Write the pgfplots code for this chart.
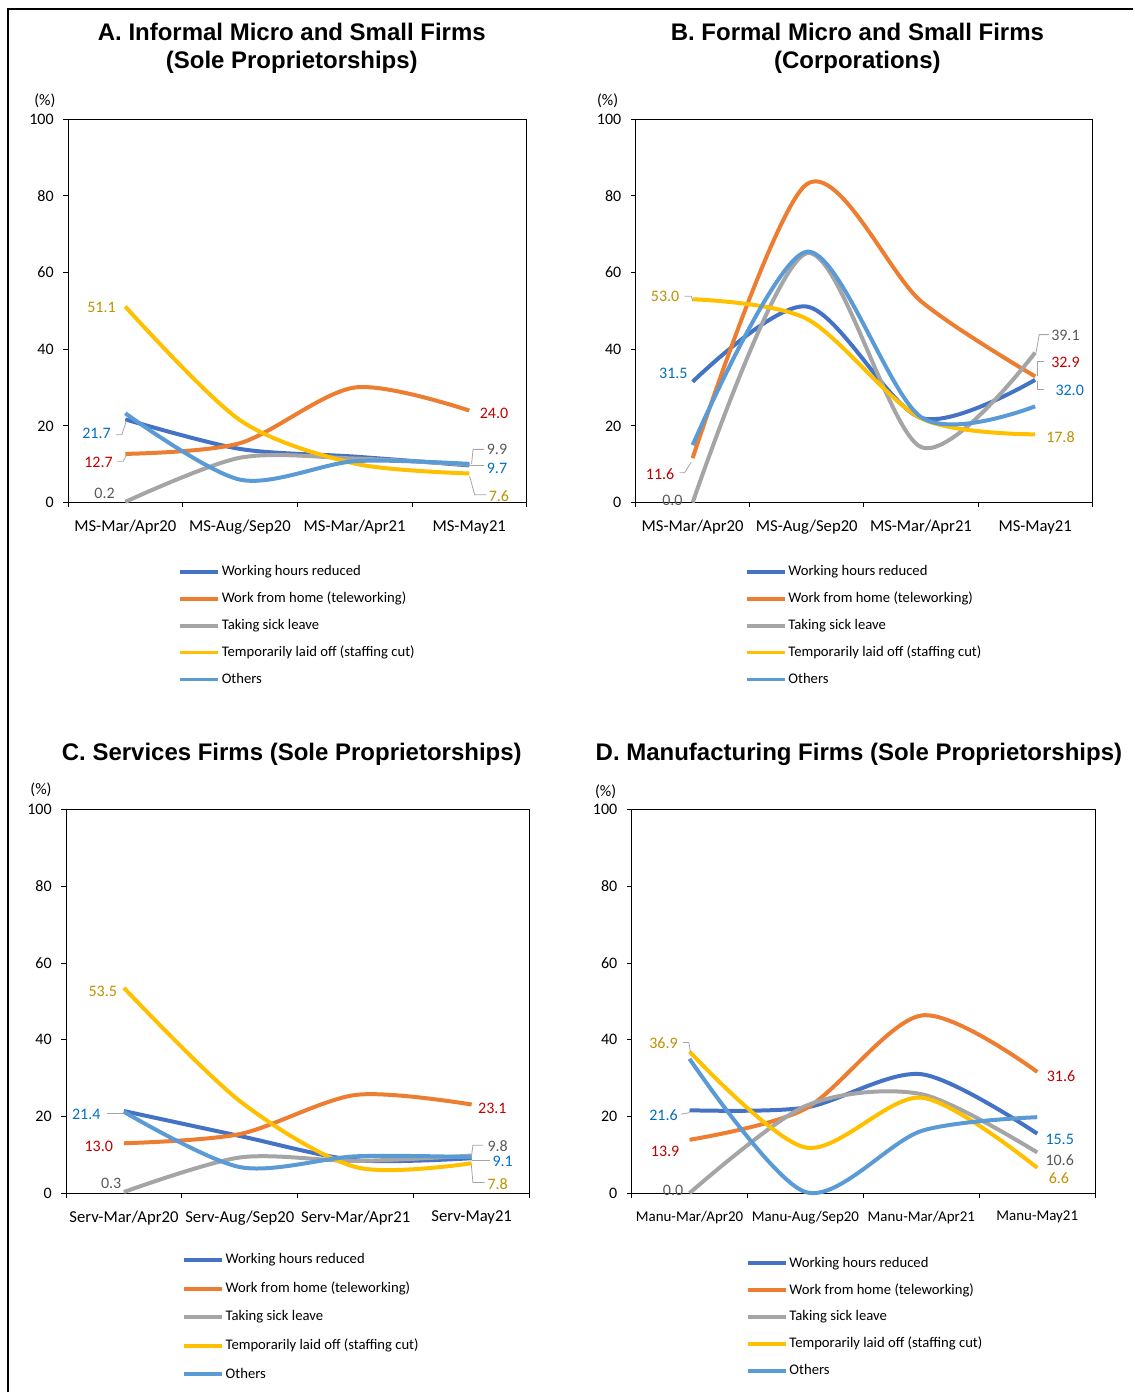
\documentclass[border=0pt]{standalone}
\usepackage{pgfplots}
\pgfplotsset{compat=1.18}
\usepackage{fontspec}
\setmainfont{Carlito}
\newfontfamily\titlefont{Liberation Sans}
\definecolor{cWHR}{RGB}{68,114,196}
\definecolor{cWFH}{RGB}{237,125,49}
\definecolor{cSick}{RGB}{165,165,165}
\definecolor{cLaid}{RGB}{255,192,0}
\definecolor{cOth}{RGB}{91,155,213}
\definecolor{cRed}{RGB}{192,0,0}
\definecolor{cGold}{RGB}{191,144,0}
\definecolor{cGray}{RGB}{89,89,89}
\definecolor{cBlue}{RGB}{0,112,192}
\newcommand{\lab}[4]{\node[anchor=#1, text=#2, font=\fontsize{12}{12}\selectfont, inner sep=0pt, yshift=-1.5pt] at (axis cs:#3) {#4};}
\tikzset{ldr/.style={draw=cSick, line width=0.6pt, yshift=-1.2pt}}
\pgfplotsset{
 panel/.style={
  scale only axis, height=288pt,
  xmin=-0.5,xmax=3.5,ymin=0,ymax=100,
  ytick={0,20,...,100},
  xtick={-0.5,0.5,1.5,2.5,3.5}, xticklabels={},
  tick pos=left, tick align=outside, major tick length=3.5pt,
  tick style={black,line width=0.6pt},
  axis line style={black,line width=0.6pt},
  /pgf/number format/assume math mode=true,
  yticklabel style={font=\fontsize{12}{12}\selectfont, inner sep=0pt, xshift=-7pt},
  extra x ticks={0,1,2,3},
  extra x tick style={major tick length=0pt, tick label style={font=\fontsize{12.5}{12.5}\selectfont, inner sep=0pt, yshift=-13pt}},
  clip=false,
  legend cell align=left,
  legend style={draw=none, fill=none, anchor=north west, font=\fontsize{11}{11}\selectfont, row sep=9.75pt, column sep=1.5pt, inner sep=0pt, nodes={inner sep=0pt, text height=8pt, text depth=2.5pt}},
  legend image code/.code={\draw[#1, line width=2.8pt] (0pt,0pt) -- (28.5pt,0pt);},
  every axis plot/.append style={line width=3pt, smooth},
 }
}
\begin{document}
\begin{tikzpicture}
\begin{scope}[x=0.75pt,y=-0.75pt]
\path (0,0) rectangle (1134,1393);
\draw[line width=1.5pt] (8,1393) -- (8,9) -- (1134,9);
\node[font=\titlefont\bfseries\fontsize{18}{21}\selectfont, align=center] at (292,48) {A. Informal Micro and Small Firms\\(Sole Proprietorships)};
\node[font=\titlefont\bfseries\fontsize{18}{21}\selectfont, align=center] at (858,48) {B. Formal Micro and Small Firms\\(Corporations)};
\node[font=\titlefont\bfseries\fontsize{18}{21}\selectfont] at (292,755) {C. Services Firms (Sole Proprietorships)};
\node[font=\titlefont\bfseries\fontsize{18}{21}\selectfont] at (859.5,755) {D. Manufacturing Firms (Sole Proprietorships)};
\node[font=\fontsize{12}{12}\selectfont] at (45,101) {(\%)};
\node[font=\fontsize{12}{12}\selectfont] at (608,101) {(\%)};
\node[font=\fontsize{12}{12}\selectfont] at (41,790) {(\%)};
\node[font=\fontsize{12}{12}\selectfont] at (606,792) {(\%)};
\end{scope}

% ---------- Panel A ----------
\begin{axis}[panel, at={(51pt,-377.25pt)}, anchor=south west, width=344.25pt,
  extra x tick labels={MS-Mar/Apr20,MS-Aug/Sep20,MS-Mar/Apr21,MS-May21},
  legend style={at={(0.2395,-0.161)}}]
\addplot[cWHR] coordinates {(0,21.7) (1,14.0) (2,12.0) (3,9.7)};
\addlegendentry{Working hours reduced}
\addplot[cWFH] coordinates {(0,12.7) (1,15.5) (2,30.0) (3,24.0)};
\addlegendentry{Work from home (teleworking)}
\addplot[cSick] coordinates {(0,0.2) (1,11.7) (2,11.5) (3,9.9)};
\addlegendentry{Taking sick leave}
\addplot[cLaid] coordinates {(0,51.1) (1,21.5) (2,10.2) (3,7.6)};
\addlegendentry{Temporarily laid off (staffing cut)}
\addplot[cOth] coordinates {(0,23.3) (1,6.0) (2,10.8) (3,10.1)};
\addlegendentry{Others}
\lab{east}{cGold}{-0.081,51.3}{51.1}
\lab{east}{cBlue}{-0.125,18.5}{21.7}
\draw[ldr] (axis cs:-0.08,18.1)--(axis cs:-0.03,18.1)--(axis cs:0.01,21.8);
\lab{east}{cRed}{-0.108,10.9}{12.7}
\draw[ldr] (axis cs:-0.07,11.2)--(axis cs:-0.018,11.2)--(axis cs:0.011,12.8);
\lab{east}{cGray}{-0.09,2.9}{0.2}
\lab{west}{cRed}{3.09,23.7}{24.0}
\lab{west}{cGray}{3.151,14.3}{9.9}
\draw[ldr] (axis cs:3.02,10.5)--(axis cs:3.033,14.3)--(axis cs:3.13,14.3);
\lab{west}{cBlue}{3.151,9.4}{9.7}
\draw[ldr] (axis cs:3.0,10.1)--(axis cs:3.13,10.1);
\lab{west}{cGold}{3.168,2.3}{7.6}
\draw[ldr] (axis cs:3.003,7.3)--(axis cs:3.047,2.5)--(axis cs:3.148,2.5);
\end{axis}

% ---------- Panel B ----------
\begin{axis}[panel, at={(477pt,-377.25pt)}, anchor=south west, width=342.75pt,
  extra x tick labels={MS-Mar/Apr20,MS-Aug/Sep20,MS-Mar/Apr21,MS-May21},
  legend style={at={(0.2385,-0.161)}}]
\addplot[cWHR] coordinates {(0,31.5) (1,51.1) (2,22.1) (3,32.0)};
\addlegendentry{Working hours reduced}
\addplot[cWFH] coordinates {(0,11.6) (1,83.0) (2,52.5) (3,32.9)};
\addlegendentry{Work from home (teleworking)}
\addplot[cSick] coordinates {(0,0.0) (1,65.0) (2,14.5) (3,39.1)};
\addlegendentry{Taking sick leave}
\addplot[cLaid] coordinates {(0,53.0) (1,47.9) (2,22.0) (3,17.8)};
\addlegendentry{Temporarily laid off (staffing cut)}
\addplot[cOth] coordinates {(0,15.0) (1,65.4) (2,22.3) (3,25.1)};
\addlegendentry{Others}
\lab{east}{cGold}{-0.115,54.2}{53.0}
\draw[ldr] (axis cs:-0.071,54.2)--(axis cs:-0.012,54.2)--(axis cs:0.002,52.9);
\lab{east}{cBlue}{-0.042,34.2}{31.5}
\lab{east}{cRed}{-0.158,7.9}{11.6}
\draw[ldr] (axis cs:-0.115,8.2)--(axis cs:-0.071,8.2)--(axis cs:-0.012,11.0);
\lab{east}{cGray}{-0.086,1.2}{0.0}
\lab{west}{cGray}{3.139,44.2}{39.1}
\draw[ldr] (axis cs:3.007,39.4)--(axis cs:3.036,44.2)--(axis cs:3.12,44.2);
\lab{west}{cRed}{3.139,37.1}{32.9}
\draw[ldr] (axis cs:3.022,33.5)--(axis cs:3.022,37.1)--(axis cs:3.08,37.1);
\lab{west}{cBlue}{3.176,29.9}{32.0}
\draw[ldr] (axis cs:3.022,32.0)--(axis cs:3.022,29.9)--(axis cs:3.08,29.9);
\lab{west}{cGold}{3.095,17.7}{17.8}
\end{axis}

% ---------- Panel C ----------
\begin{axis}[panel, at={(49.5pt,-895.5pt)}, anchor=south west, width=348pt,
  extra x tick labels={Serv-Mar/Apr20,Serv-Aug/Sep20,Serv-Mar/Apr21,Serv-May21},
  legend style={at={(0.2497,-0.156)}, row sep=10.9pt}]
\addplot[cWHR] coordinates {(0,21.4) (1,14.9) (2,8.6) (3,9.1)};
\addlegendentry{Working hours reduced}
\addplot[cWFH] coordinates {(0,13.0) (1,15.4) (2,25.6) (3,23.1)};
\addlegendentry{Work from home (teleworking)}
\addplot[cSick] coordinates {(0,0.3) (1,9.3) (2,8.4) (3,9.8)};
\addlegendentry{Taking sick leave}
\addplot[cLaid] coordinates {(0,53.5) (1,24.0) (2,6.8) (3,7.8)};
\addlegendentry{Temporarily laid off (staffing cut)}
\addplot[cOth] coordinates {(0,21.2) (1,6.8) (2,9.6) (3,9.4)};
\addlegendentry{Others}
\lab{east}{cGold}{-0.058,53.1}{53.5}
\lab{east}{cBlue}{-0.2,21.0}{21.4}
\draw[ldr] (axis cs:-0.144,21.2)--(axis cs:0.0,21.2);
\lab{east}{cRed}{-0.092,12.8}{13.0}
\lab{east}{cGray}{-0.02,3.2}{0.3}
\lab{west}{cRed}{3.054,22.7}{23.1}
\lab{west}{cGray}{3.135,12.9}{9.8}
\draw[ldr] (axis cs:2.997,9.7)--(axis cs:3.011,12.9)--(axis cs:3.097,12.9);
\lab{west}{cBlue}{3.178,8.9}{9.1}
\draw[ldr] (axis cs:3.0,9.0)--(axis cs:3.155,9.0);
\lab{west}{cGold}{3.135,2.9}{7.8}
\draw[ldr] (axis cs:2.997,7.8)--(axis cs:3.011,3.2)--(axis cs:3.112,3.2);
\end{axis}

% ---------- Panel D ----------
\begin{axis}[panel, at={(474pt,-895.5pt)}, anchor=south west, width=348pt,
  extra x tick labels={Manu-Mar/Apr20,Manu-Aug/Sep20,Manu-Mar/Apr21,Manu-May21},
  extra x tick style={tick label style={font=\fontsize{11.2}{11.2}\selectfont}},
  legend style={at={(0.2457,-0.164)}}]
\addplot[cWHR] coordinates {(0,21.6) (1,22.3) (2,31.0) (3,15.5)};
\addlegendentry{Working hours reduced}
\addplot[cWFH] coordinates {(0,13.9) (1,22.0) (2,46.3) (3,31.6)};
\addlegendentry{Work from home (teleworking)}
\addplot[cSick] coordinates {(0,0.0) (1,22.7) (2,25.8) (3,10.6)};
\addlegendentry{Taking sick leave}
\addplot[cLaid] coordinates {(0,36.9) (1,11.9) (2,24.9) (3,6.6)};
\addlegendentry{Temporarily laid off (staffing cut)}
\addplot[cOth] coordinates {(0,35.0) (1,0.3) (2,16.2) (3,19.8)};
\addlegendentry{Others}
\lab{east}{cGold}{-0.1,39.7}{36.9}
\draw[ldr] (axis cs:-0.058,39.7)--(axis cs:-0.006,39.7)--(axis cs:0.009,37.1);
\lab{east}{cBlue}{-0.1,20.8}{21.6}
\draw[ldr] (axis cs:-0.072,21.0)--(axis cs:0.0,21.4);
\lab{east}{cRed}{-0.086,11.5}{13.9}
\lab{east}{cGray}{-0.052,1.2}{0.0}
\lab{west}{cRed}{3.08,31.0}{31.6}
\lab{west}{cBlue}{3.069,14.5}{15.5}
\lab{west}{cGray}{3.069,9.0}{10.6}
\lab{west}{cGold}{3.097,4.3}{6.6}
\end{axis}
\end{tikzpicture}
\end{document}
